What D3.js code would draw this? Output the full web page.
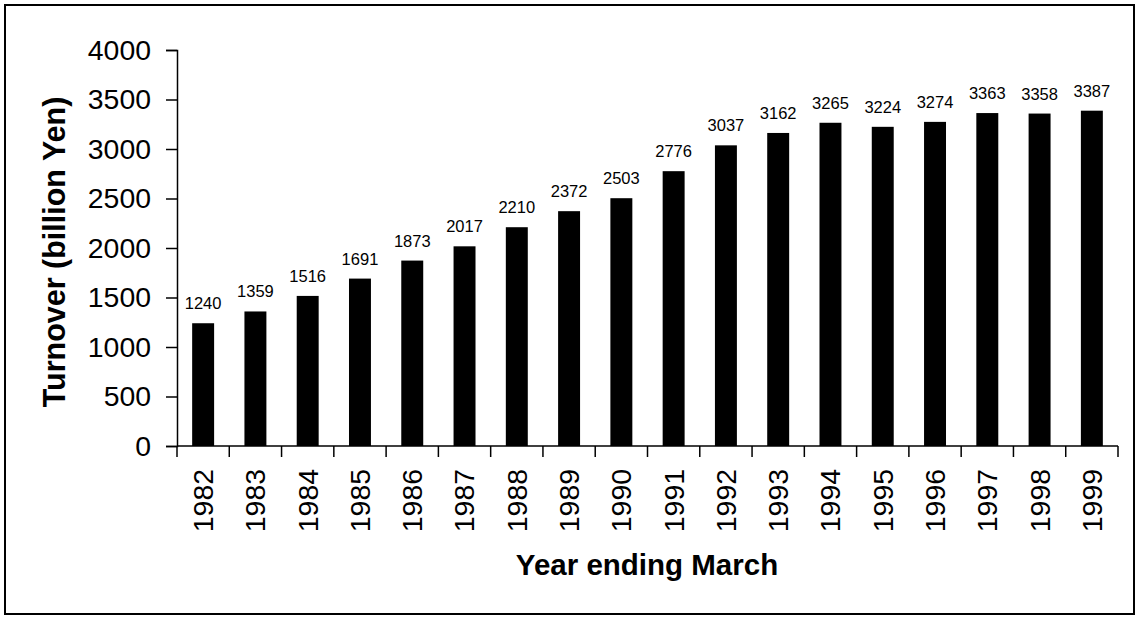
<!DOCTYPE html>
<html lang="en">
<head>
  <meta charset="UTF-8">
  <script src="https://d3js.org/d3.v7.min.js"></script>
  <title>Turnover</title>
  <style>
    body { margin: 0; background: #fff; }
    text { font-family: Arial, "Liberation Sans", sans-serif; fill: #000; }
  </style>
</head>
<body>
  <svg width="1136" height="623"></svg>
  <script>
    // data
    const years = [1982, 1983, 1984, 1985, 1986, 1987, 1988, 1989, 1990,
                   1991, 1992, 1993, 1994, 1995, 1996, 1997, 1998, 1999];
    const turnover = [1240, 1359, 1516, 1691, 1873, 2017, 2210, 2372, 2503,
                      2776, 3037, 3162, 3265, 3224, 3274, 3363, 3358, 3387];
    const yTicks = [0, 500, 1000, 1500, 2000, 2500, 3000, 3500, 4000];

    const data = years.map((y, i) => ({ year: y, value: turnover[i] }));

    const svg = d3.select("svg");

    // frame round the whole chart
    svg.append("rect")
      .attr("x", 5).attr("y", 5)
      .attr("width", 1129).attr("height", 609)
      .attr("fill", "none")
      .attr("stroke", "#000")
      .attr("stroke-width", 2);

    const xScale = d3.scaleBand()
      .domain(years)
      .range([177, 1118])
      .paddingInner(0.58)
      .paddingOuter(0.29);

    const yScale = d3.scaleLinear().domain([0, 4000]).range([446, 50]);

    // bars
    svg.append("g").selectAll("rect")
      .data(data)
      .join("rect")
      .attr("x", d => xScale(d.year))
      .attr("y", d => yScale(d.value))
      .attr("width", xScale.bandwidth())
      .attr("height", d => yScale(0) - yScale(d.value))
      .attr("fill", "#000");

    // value labels
    svg.append("g").selectAll("text")
      .data(data)
      .join("text")
      .attr("x", d => xScale(d.year) + xScale.bandwidth() / 2)
      .attr("y", d => yScale(d.value) - 14)
      .attr("text-anchor", "middle")
      .style("font-size", "16.5px")
      .text(d => d.value);

    // y axis
    const yAxis = d3.axisLeft(yScale)
      .tickValues(yTicks)
      .tickSize(11)
      .tickPadding(15)
      .tickFormat(d3.format("d"));

    const yG = svg.append("g")
      .attr("transform", "translate(177,0)")
      .call(yAxis);
    yG.select(".domain").attr("stroke-width", 1.5);
    yG.selectAll(".tick line").attr("stroke-width", 1.5);
    yG.selectAll(".tick text")
      .style("font-size", "28.4px")
      .attr("font-family", null);

    // x axis, ticks between the categories
    const edges = years.map(y => xScale(y) - xScale.step() * xScale.paddingInner() / 2)
      .concat([1118]);

    const xG = svg.append("g").attr("transform", "translate(0,446)");
    xG.append("line")
      .attr("x1", 177).attr("x2", 1118)
      .attr("stroke", "#000").attr("stroke-width", 1.5);
    xG.selectAll("line.tk")
      .data(edges)
      .join("line")
      .attr("class", "tk")
      .attr("x1", d => d).attr("x2", d => d)
      .attr("y1", 0).attr("y2", 11)
      .attr("stroke", "#000").attr("stroke-width", 1.5);
    xG.selectAll("text")
      .data(years)
      .join("text")
      .attr("transform", d => `translate(${xScale(d) + xScale.bandwidth() / 2},23) rotate(-90)`)
      .attr("text-anchor", "end")
      .attr("dy", "0.35em")
      .style("font-size", "28.4px")
      .text(d => d);

    // axis titles
    svg.append("text")
      .attr("x", 647)
      .attr("y", 575)
      .attr("text-anchor", "middle")
      .style("font-size", "29.5px")
      .style("font-weight", "bold")
      .text("Year ending March");

    svg.append("text")
      .attr("transform", "translate(65,252) rotate(-90)")
      .attr("text-anchor", "middle")
      .style("font-size", "30.5px")
      .style("font-weight", "bold")
      .text("Turnover (billion Yen)");
  </script>
</body>
</html>
